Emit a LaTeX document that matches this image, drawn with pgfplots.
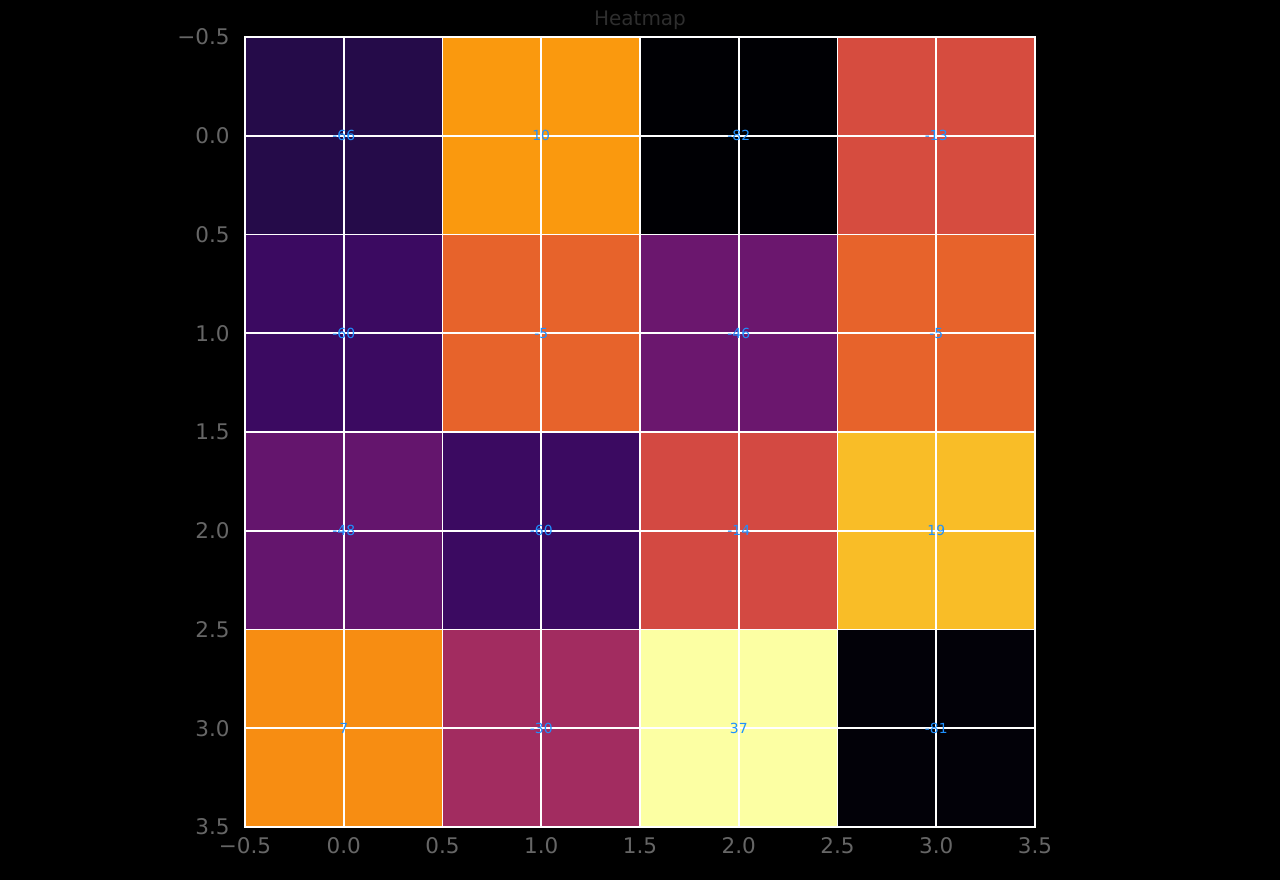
\documentclass[border=0pt]{standalone}
\usepackage{fontspec}
\setmainfont{DejaVu Sans}
\usepackage{pgfplots}
\pgfplotsset{compat=1.18}
\definecolor{ticklbl}{HTML}{666666}
\definecolor{titlec}{HTML}{2E2E2E}
\definecolor{annot}{HTML}{1E90FF}

\pgfplotsset{colormap={inferno}{
  rgb255=(0,0,4) rgb255=(22,11,57) rgb255=(66,10,104) rgb255=(106,23,110)
  rgb255=(147,38,103) rgb255=(188,55,84) rgb255=(221,81,58) rgb255=(243,120,25)
  rgb255=(252,165,10) rgb255=(246,215,70) rgb255=(252,255,164)}}

\pgfplotstableread{
x y c
0 0 -66
1 0 10
2 0 -82
3 0 -13
0 1 -60
1 1 -5
2 1 -46
3 1 -5
0 2 -48
1 2 -60
2 2 -14
3 2 19
0 3 7
1 3 -30
2 3 37
3 3 -81
}\cells

\begin{document}
\begin{tikzpicture}
\fill[black] (0,0) rectangle (921.6pt,633.6pt);
\useasboundingbox (0,0) rectangle (921.6pt,633.6pt);
\begin{axis}[
    at={(176.4pt,38.16pt)}, anchor=south west,
    width=568.8pt, height=568.8pt, scale only axis,
    xmin=-0.5, xmax=3.5, ymin=-0.5, ymax=3.5,
    y dir=reverse,
    colormap name=inferno,
    point meta min=-82, point meta max=37,
    axis on top,
    axis line style={white, line width=1.1pt},
    grid=major,
    grid style={white, line width=1.1pt},
    major tick length=0pt,
    xtick={-0.5,0,0.5,1,1.5,2,2.5,3,3.5},
    ytick={-0.5,0,0.5,1,1.5,2,2.5,3,3.5},
    xticklabels={−0.5,0.0,0.5,1.0,1.5,2.0,2.5,3.0,3.5},
    yticklabels={−0.5,0.0,0.5,1.0,1.5,2.0,2.5,3.0,3.5},
    ticklabel style={font=\fontsize{15.5}{18}\selectfont, text=ticklbl},
    xticklabel shift=4pt, yticklabel shift=7.5pt,
    title={Heatmap},
    title style={font=\fontsize{14.4}{17}\selectfont, text=titlec, yshift=-4pt},
]
\addplot[matrix plot*, mesh/cols=4, point meta=explicit, draw=none] table[x=x, y=y, meta=c] {\cells};
\addplot[draw=none, mark=none, nodes near coords={\pgfplotspointmeta},
    nodes near coords align=center, point meta=explicit symbolic,
    every node near coord/.style={font=\fontsize{10}{11}\selectfont, text=annot, anchor=center}]
    table[x=x, y=y, meta=c] {\cells};
\end{axis}
\end{tikzpicture}
\end{document}
